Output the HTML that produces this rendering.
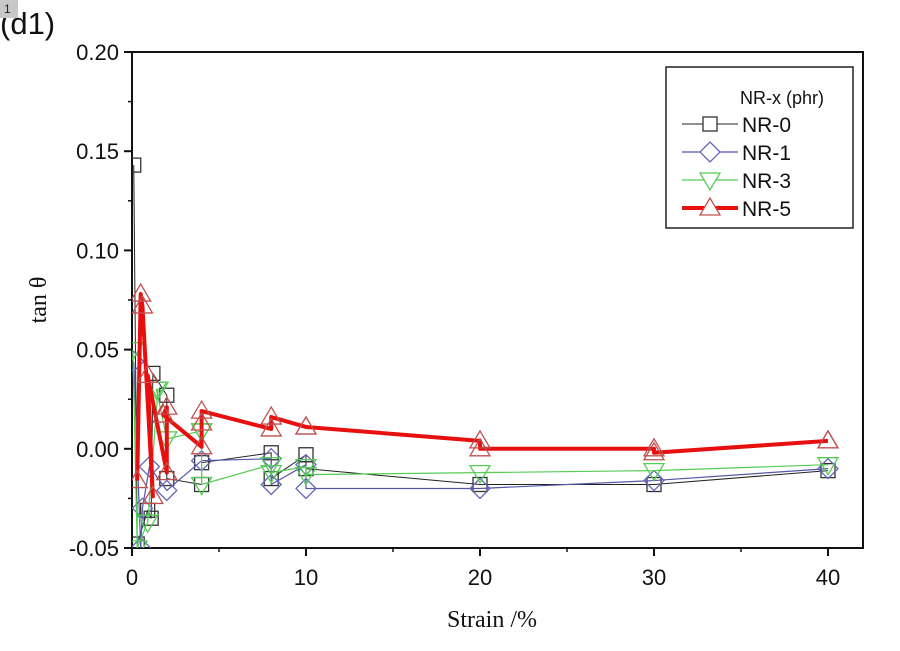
<!DOCTYPE html>
<html><head><meta charset="utf-8"><style>
body{margin:0;background:#fff;width:900px;height:651px;overflow:hidden}
svg{display:block}
</style></head><body>
<svg id="chart" width="900" height="651" xmlns="http://www.w3.org/2000/svg">
<text x="0" y="34" font-family="Liberation Sans, sans-serif" font-size="31" fill="#111">(d1)</text>
<rect x="0" y="0" width="18" height="18" fill="#c8c8c8"/>
<text x="4" y="13" font-family="Liberation Sans, sans-serif" font-size="12" fill="#222">1</text>
<g id="axes"></g>
<g id="series"></g>
<g id="legend">
<rect x="666" y="67" width="187" height="161" fill="#fff" stroke="#222" stroke-width="1.5"/>
<text x="740" y="104" font-family="Liberation Sans, sans-serif" font-size="18" fill="#111">NR-x (phr)</text>
</g>
<text x="492" y="627" text-anchor="middle" font-family="Liberation Serif, serif" font-size="24" fill="#111">Strain /%</text>
<text transform="translate(46,300) rotate(-90)" text-anchor="middle" font-family="Liberation Serif, serif" font-size="24" fill="#111">tan θ</text>
</svg>
<script>
const xTicks=[0,10,20,30,40];
const yTicks=[-0.05,0,0.05,0.10,0.15,0.20];
const yTickLabels=["-0.05","0.00","0.05","0.10","0.15","0.20"];
const seriesNames=["NR-0","NR-1","NR-3","NR-5"];
const nr0X=[0.1,0.3,0.9,1.1,1.2,2.0,2.0,4.0,4.0,8,8,10,10,20,30,40];
const nr0Y=[0.143,-0.048,-0.031,-0.035,0.038,0.027,-0.015,-0.018,-0.007,-0.002,-0.015,-0.003,-0.010,-0.018,-0.018,-0.011];
const nr1X=[0.1,0.5,0.6,1.0,2.0,4.0,8,8,10,10,20,30,40];
const nr1Y=[0.044,-0.05,-0.030,-0.009,-0.021,-0.006,-0.005,-0.018,-0.008,-0.020,-0.020,-0.016,-0.010];
const nr3X=[0.05,0.3,0.9,1.5,1.4,2.0,4.0,4.0,4.0,8,8,10,10,20,30,40];
const nr3Y=[0.050,-0.05,-0.037,0.030,0.030,0.005,0.009,0.009,-0.018,-0.008,-0.012,-0.009,-0.013,-0.012,-0.011,-0.008];
const nr5X=[0.3,0.5,0.6,1.2,0.9,2.0,2.0,1.8,4.0,4.0,4.0,8,8,10,10,20,20,30,30,40,40];
const nr5Y=[-0.016,0.078,0.072,-0.024,0.037,-0.012,0.021,0.017,0.001,0.013,0.019,0.010,0.016,0.011,0.011,0.004,0.000,0.000,-0.002,0.004,0.004];

const X0=132,X1=863,Y0=52,Y1=548;
function sx(v){return 132+(v-0)*17.4;}
function sy(v){return 548-(v+0.05)/0.25*496;}
const NS="http://www.w3.org/2000/svg";
function mk(tag,attrs,parent){const e=document.createElementNS(NS,tag);for(const k in attrs)e.setAttribute(k,attrs[k]);parent.appendChild(e);return e;}
const axes=document.getElementById('axes');
const frame=mk('rect',{x:X0,y:Y0,width:X1-X0,height:Y1-Y0,fill:'none',stroke:'#111','stroke-width':2},axes);


xTicks.forEach((t,i)=>{
  const l=mk('line',{x1:sx(t),x2:sx(t),y1:Y1,y2:Y1+8,stroke:'#111','stroke-width':2},axes);
  
  
  const m=mk('line',{x1:sx(t+5),x2:sx(t+5),y1:Y1,y2:Y1+4,stroke:'#111','stroke-width':1.5},axes);
  
  
  const tx=mk('text',{x:sx(t),y:585,'text-anchor':'middle','font-family':'Liberation Sans, sans-serif','font-size':22,fill:'#111'},axes);
  tx.textContent=String(t);
  
  
});
yTicks.forEach((t,i)=>{
  const l=mk('line',{x1:X0-8,x2:X0,y1:sy(t),y2:sy(t),stroke:'#111','stroke-width':2},axes);
  
  
  if(i<yTicks.length-1){
    const m=mk('line',{x1:X0-4,x2:X0,y1:sy(t+0.025),y2:sy(t+0.025),stroke:'#111','stroke-width':1.5},axes);
    
    
  }
  const tx=mk('text',{x:X0-13,y:sy(t)+8,'text-anchor':'end','font-family':'Liberation Sans, sans-serif','font-size':22,fill:'#111'},axes);
  tx.textContent=yTickLabels[i];
  
  
});
const styles=[
 {xs:nr0X,ys:nr0Y,line:'#222',lw:1,mk:'sq',ms:'#333',fill:'#fff'},
 {xs:nr1X,ys:nr1Y,line:'#5555aa',lw:1.2,mk:'di',ms:'#6666bb',fill:'#fff'},
 {xs:nr3X,ys:nr3Y,line:'#55cc55',lw:1.2,mk:'dn',ms:'#55cc55',fill:'#fff'},
 {xs:nr5X,ys:nr5Y,line:'#e8100f',lw:4,mk:'up',ms:'#c05050',fill:'#fff'}
];
function marker(g,type,x,y,stroke,fill){
  let e;
  if(type==='sq')e=mk('rect',{x:x-7,y:y-7,width:14,height:14,fill:'none',stroke:stroke,'stroke-width':1.3},g);
  else if(type==='di')e=mk('polygon',{points:`${x},${y-10} ${x+10},${y} ${x},${y+10} ${x-10},${y}`,fill:'none',stroke:stroke,'stroke-width':1.3},g);
  else if(type==='dn')e=mk('polygon',{points:`${x-10},${y-7} ${x+10},${y-7} ${x},${y+10}`,fill:'none',stroke:stroke,'stroke-width':1.3},g);
  else e=mk('polygon',{points:`${x-10},${y+7} ${x+10},${y+7} ${x},${y-10}`,fill:'none',stroke:stroke,'stroke-width':1.3},g);
  return e;
}
const sg=document.getElementById('series');
const clip=mk('clipPath',{id:'pc'},sg);
mk('rect',{x:X0,y:Y0,width:X1-X0,height:Y1-Y0},clip);
styles.forEach((s,i)=>{
  const g=mk('g',{'clip-path':'url(#pc)'},sg);
  
  
  const pts=s.xs.map((x,j)=>sx(x)+','+sy(s.ys[j])).join(' ');
  const pl=mk('polyline',{points:pts,fill:'none',stroke:s.line,'stroke-width':s.lw,'stroke-linejoin':'round'},g);
  
  
  s.xs.forEach((x,j)=>{
    const m=marker(g,s.mk,sx(x),sy(s.ys[j]),s.ms,s.fill);
    
    
  });
  const lg=document.getElementById('legend');
  const ly=124+i*28;
  const ll=mk('line',{x1:682,x2:738,y1:ly,y2:ly,stroke:s.line,'stroke-width':s.lw},lg);
  
  
  const lm=marker(lg,s.mk,710,ly,s.ms,'#fff');
  lm.setAttribute('fill','#fff');
  
  
  const lt=mk('text',{x:742,y:ly+8,'font-family':'Liberation Sans, sans-serif','font-size':21,fill:'#111'},lg);
  lt.textContent=seriesNames[i];
  
  
});
</script>
</body></html>
